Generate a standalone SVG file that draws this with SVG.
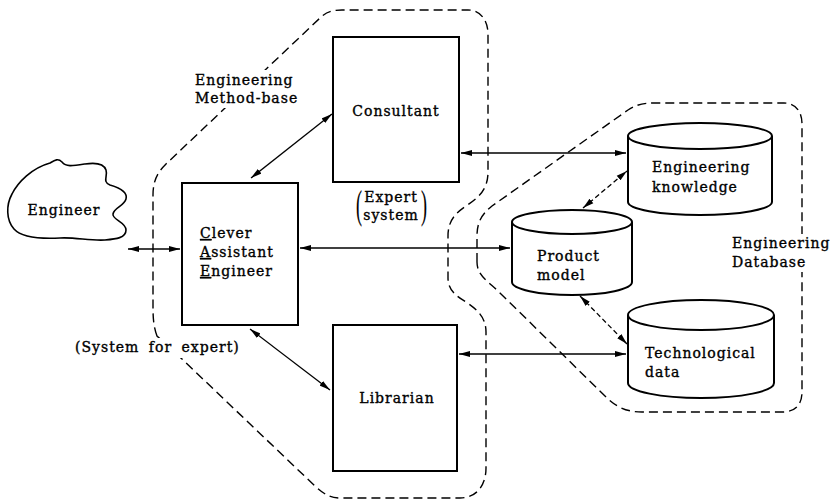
<svg xmlns="http://www.w3.org/2000/svg" width="835" height="502" viewBox="0 0 835 502">
  <style>
    .bg { fill: #ffffff; }
    .gap { fill: #ffffff; }
    .box { fill: #ffffff; stroke: #000; stroke-width: 2; }
    .cyl { fill: #ffffff; stroke: #000; stroke-width: 2; }
    .zone { fill: none; stroke: #000; stroke-width: 1.4; stroke-dasharray: 9 5; }
    .link { fill: none; stroke: #000; stroke-width: 1.3; marker-start: url(#head); marker-end: url(#head); }
    .link.dash { stroke-dasharray: 5 3; }
    text { font-family: "DejaVu Serif", "Liberation Serif", serif; font-size: 14px; fill: #000; stroke: #000; stroke-width: 0.35px; letter-spacing: 1px; }
    .mid { text-anchor: middle; }
    .paren { font-family: "Liberation Serif", serif; font-size: 40px; letter-spacing: 0; stroke-width: 0.2px; }
    .u { text-decoration: underline; }
  </style>
  <defs>
    <marker id="head" markerUnits="userSpaceOnUse" markerWidth="12" markerHeight="7" refX="11" refY="3.5" orient="auto-start-reverse">
      <path d="M0,0.6 L11,3.5 L0,6.4 Z" fill="#000"/>
    </marker>
  </defs>

  <rect class="bg" x="0" y="0" width="835" height="502"/>

  <!-- dashed zones -->
  <g id="zones">
    <path id="method-base-zone" class="zone" d="M 157,336 C 153,325 153,315 153,305 L 153,195 C 153,180 158,172 166,164 L 320,18 C 326,12 332,10 342,10 L 468,10 C 480,10 488,20 488,34 L 488,172 C 488,190 478,198 466,206 C 454,214 448,222 448,236 L 448,278 C 448,290 456,296 466,302 C 478,310 486,318 486,332 L 486,468 C 486,486 476,498 460,498 L 340,498 C 330,498 324,494 316,487 L 183,360 Z"/>
    <path id="database-zone" class="zone" d="M 477,262 L 477,236 C 477,222 482,214 492,206 L 628,110 C 636,105 642,103 654,103 L 784,103 C 796,103 802,112 802,124 L 802,392 C 802,404 796,412 782,412 L 642,412 C 628,412 618,408 608,399 L 497,290 C 485,279 477,274 477,262 Z"/>
  </g>

  <!-- zone labels, with the dashed outline broken behind them -->
  <g id="zone-labels">
    <rect class="gap" x="192" y="70" width="110" height="38"/>
    <text x="195" y="85">Engineering</text>
    <text x="195" y="103">Method-base</text>
    <rect class="gap" x="72" y="338" width="174" height="20"/>
    <text x="75" y="352" style="word-spacing:4px">(System for expert)</text>
    <rect class="gap" x="729" y="234" width="104" height="38"/>
    <text x="732" y="248">Engineering</text>
    <text x="732" y="267">Database</text>
  </g>

  <!-- connectors -->
  <g id="connectors">
    <line class="link" x1="128" y1="249" x2="180" y2="249"/>
    <line class="link" x1="251" y1="178" x2="332" y2="114"/>
    <line class="link" x1="300" y1="248" x2="510" y2="248"/>
    <line class="link" x1="461" y1="153" x2="626" y2="153"/>
    <line class="link" x1="250" y1="329" x2="330" y2="390"/>
    <line class="link" x1="459" y1="354" x2="626" y2="354"/>
    <line class="link dash" x1="583" y1="208" x2="627" y2="171"/>
    <line class="link dash" x1="580" y1="296" x2="627" y2="344"/>
  </g>

  <!-- Engineer -->
  <g id="engineer">
    <path fill="#fff" stroke="#000" stroke-width="1.6" d="M 50,163 C 55,160 58,158 62,162 C 66,167 72,166 85,164 C 98,162 104,164 106,170 C 108,176 102,182 110,185 C 120,188 128,192 126,199 C 124,206 114,208 113,214 C 112,220 126,222 126,230 C 126,238 116,239 105,240 C 90,241 75,237 60,238 C 40,239 22,238 14,229 C 6,220 6,205 12,194 C 18,182 32,168 50,163 Z"/>
    <text class="mid" x="64" y="215">Engineer</text>
  </g>

  <!-- Clever Assistant Engineer -->
  <g id="cae">
    <rect class="box" x="182" y="183" width="116" height="142"/>
    <text x="200" y="238"><tspan class="u">C</tspan>lever</text>
    <text x="200" y="257"><tspan class="u">A</tspan>ssistant</text>
    <text x="200" y="276"><tspan class="u">E</tspan>ngineer</text>
  </g>

  <!-- Consultant -->
  <g id="consultant">
    <rect class="box" x="333" y="37" width="126" height="145"/>
    <text class="mid" x="396" y="116">Consultant</text>
    <text class="paren" transform="translate(356,218) scale(0.45,1)">(</text>
    <text class="mid" x="391" y="202">Expert</text>
    <text class="mid" x="391" y="220">system</text>
    <text class="paren" transform="translate(421,218) scale(0.45,1)">)</text>
  </g>

  <!-- Librarian -->
  <g id="librarian">
    <rect class="box" x="333" y="325" width="124" height="146"/>
    <text class="mid" x="397" y="403">Librarian</text>
  </g>

  <!-- Engineering knowledge -->
  <g id="engineering-knowledge">
    <path class="cyl" d="M 628,136 L 628,202 A 72,13 0 0 0 772,202 L 772,136"/>
    <ellipse class="cyl" cx="700" cy="136" rx="72" ry="13"/>
    <text x="652" y="172">Engineering</text>
    <text x="652" y="192">knowledge</text>
  </g>

  <!-- Product model -->
  <g id="product-model">
    <path class="cyl" d="M 512,222 L 512,282 A 60,13 0 0 0 632,282 L 632,222"/>
    <ellipse class="cyl" cx="572" cy="222" rx="60" ry="12"/>
    <text x="537" y="261">Product</text>
    <text x="537" y="280">model</text>
  </g>

  <!-- Technological data -->
  <g id="technological-data">
    <path class="cyl" d="M 628,315 L 628,383 A 73,15 0 0 0 774,383 L 774,315"/>
    <ellipse class="cyl" cx="701" cy="315" rx="73" ry="15"/>
    <text x="645" y="358">Technological</text>
    <text x="645" y="377">data</text>
  </g>
</svg>
